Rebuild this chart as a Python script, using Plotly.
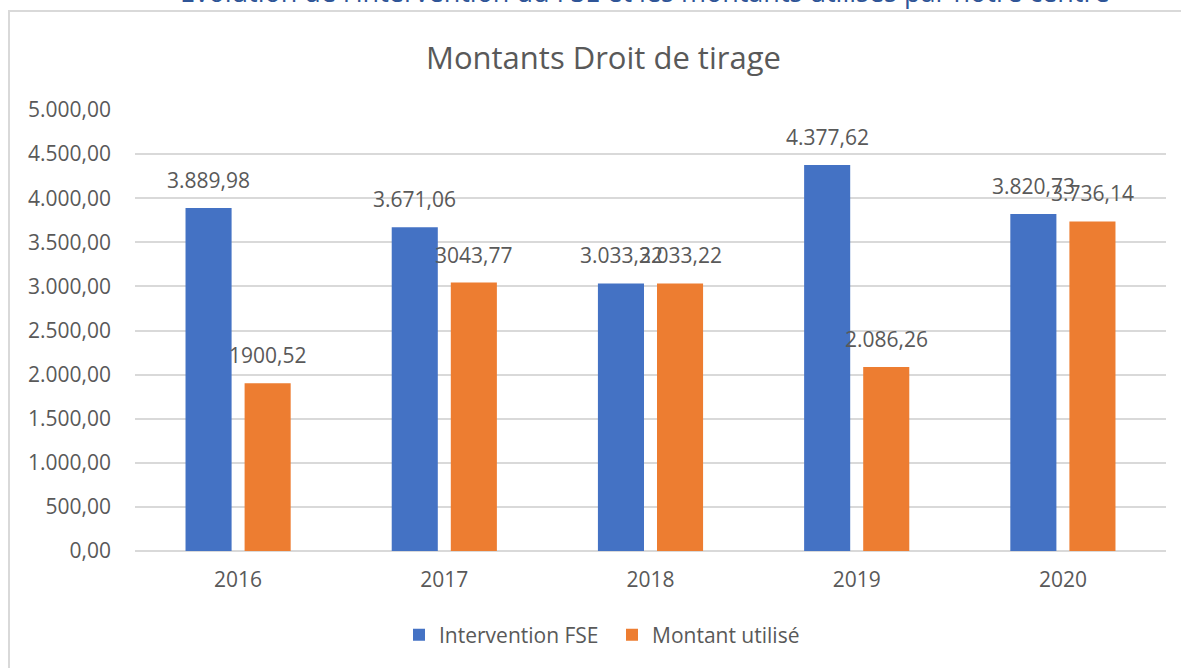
import plotly.graph_objects as go

years = ["2016", "2017", "2018", "2019", "2020"]
intervention_fse = [3889.98, 3671.06, 3033.22, 4377.62, 3820.73]
montant_utilise = [1900.52, 3043.77, 3033.22, 2086.26, 3736.14]
labels_fse = ["3.889,98", "3.671,06", "3.033,22", "4.377,62", "3.820,73"]
labels_utilise = ["1900,52", "3043,77", "3.033,22", "2.086,26", "3.736,14"]

BLUE = "#4472c4"
ORANGE = "#ed7d31"
TEXT = "#595959"
GRID = "#d9d9d9"
FONT = "Open Sans, Noto Sans, sans-serif"

fig = go.Figure()
fig.add_trace(go.Bar(x=years, y=intervention_fse, name="Intervention FSE",
                     marker=dict(color=BLUE, line=dict(width=0))))
fig.add_trace(go.Bar(x=years, y=montant_utilise, name="Montant utilisé",
                     marker=dict(color=ORANGE, line=dict(width=0))))

annotations = []
for i, (v, t) in enumerate(zip(intervention_fse, labels_fse)):
    annotations.append(dict(x=i, y=v, xref="x", yref="y", text=t, showarrow=False,
                            xshift=-29.5, yshift=28, yanchor="middle",
                            font=dict(size=21, color=TEXT, family=FONT)))
for i, (v, t) in enumerate(zip(montant_utilise, labels_utilise)):
    annotations.append(dict(x=i, y=v, xref="x", yref="y", text=t, showarrow=False,
                            xshift=29.5, yshift=28, yanchor="middle",
                            font=dict(size=21, color=TEXT, family=FONT)))

# chart title
annotations.append(dict(x=(603 - 135) / 1031, y=1, xref="paper", yref="paper",
                        text="Montants Droit de tirage", showarrow=False,
                        xanchor="center", yanchor="middle", yshift=53,
                        font=dict(size=31, color=TEXT, family=FONT)))
# cut-off document heading above the chart frame
annotations.append(dict(x=(645 - 135) / 1031, y=1, xref="paper", yref="paper",
                        text="Évolution de l'intervention du FSE et les montants utilisés par notre centre",
                        showarrow=False, xanchor="center", yanchor="middle", yshift=119,
                        font=dict(size=27, color="#2f5597", family=FONT)))

fig.update_layout(
    width=1181, height=668,
    margin=dict(l=135, r=15, t=110, b=117),
    paper_bgcolor="white", plot_bgcolor="white",
    barmode="group", bargap=0.427, bargroupgap=0.22,
    separators=",.",
    font=dict(family=FONT, color=TEXT, size=21),
    showlegend=True,
    legend=dict(orientation="h", x=(612 - 135) / 1031, xanchor="center",
                y=(551 - 635) / 441, yanchor="middle", itemwidth=30,
                entrywidth=168,
                font=dict(size=21, color=TEXT, family=FONT),
                itemsizing="constant", bgcolor="rgba(0,0,0,0)"),
    annotations=annotations,
    shapes=[dict(type="rect", xref="paper", yref="paper",
                 x0=(9 - 135) / 1031, x1=1.2, y0=-0.5, y1=(551 - 11) / 441,
                 line=dict(color=GRID, width=2), fillcolor="rgba(0,0,0,0)",
                 layer="below")],
)
fig.update_yaxes(range=[0, 5000], dtick=500, tickformat=",.2f",
                 showgrid=True, gridcolor=GRID, gridwidth=1.5,
                 zeroline=True, zerolinecolor=GRID, zerolinewidth=1.5,
                 showline=False, ticks="", ticklabelstandoff=23,
                 tickfont=dict(size=21, color=TEXT, family=FONT))
fig.update_xaxes(type="category", range=[-0.5, len(years) - 0.5],
                 showgrid=False, showline=False, ticks="",
                 ticklabelstandoff=14,
                 tickfont=dict(size=21, color=TEXT, family=FONT))

fig.write_html("out.html", config={"displayModeBar": False},
               post_script="document.body.style.margin='0';document.body.style.overflow='hidden';")
